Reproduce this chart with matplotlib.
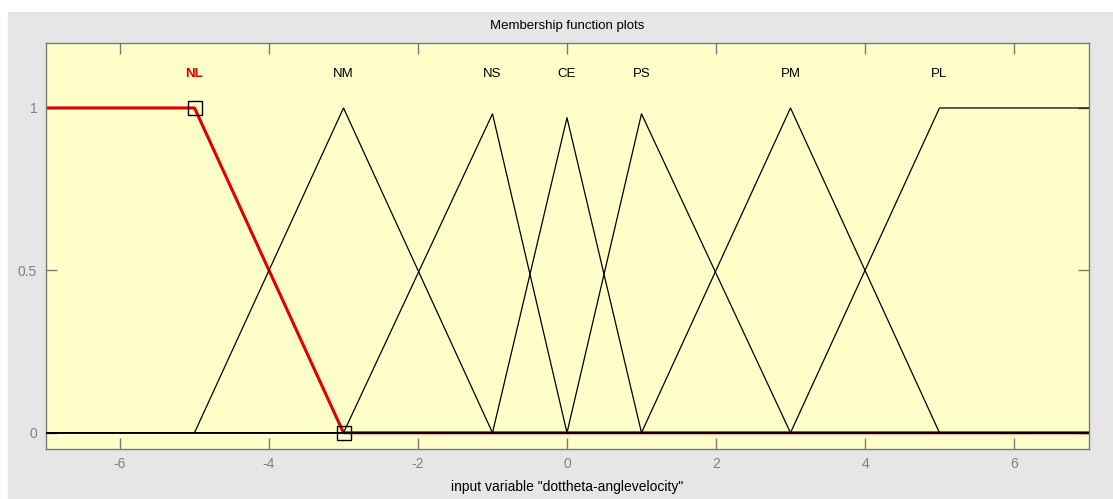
"""Membership function plots for dottheta-anglevelocity"""

import matplotlib
matplotlib.use("Agg")
import matplotlib.pyplot as plt
from matplotlib.patches import Rectangle

plt.rcParams["font.family"] = ["Liberation Sans", "DejaVu Sans"]
plt.rcParams["axes.unicode_minus"] = False

# membership functions: vertex x / y for each term
mf_names = ["NL", "NM", "NS", "CE", "PS", "PM", "PL"]
mf_x = [
    [-7, -5, -3, 7],
    [-7, -5, -3, -1, 7],
    [-7, -3, -1, 0, 7],
    [-7, -1, 0, 1, 7],
    [-7, 0, 1, 3, 7],
    [-7, 1, 3, 5, 7],
    [-7, 3, 5, 7],
]
mf_y = [
    [1, 1, 0, 0],
    [0, 0, 1, 0, 0],
    [0, 0, 0.982, 0, 0],
    [0, 0, 0.97, 0, 0],
    [0, 0, 0.982, 0, 0],
    [0, 0, 1, 0, 0],
    [0, 0, 1, 1],
]
label_pos = [-5, -3, -1, 0, 1, 3, 5]
selected = "NL"
selected_handles_x = [-5, -3]
selected_handles_y = [1, 0]

GREY = "#e6e6e6"
AXIS_COLOR = "#7a7a6e"

fig = plt.figure(figsize=(11.13, 4.99), dpi=100, facecolor="white")
fig.patches.append(Rectangle((8 / 1113, 0), 1, 1 - 12 / 499,
                             transform=fig.transFigure, color=GREY, zorder=-10))

ax = fig.add_axes([45.5 / 1113, 1 - 449 / 499, 1043 / 1113, 406 / 499])
ax.set_facecolor("#ffffca")

for name, xs, ys, pos in zip(mf_names, mf_x, mf_y, label_pos):
    if name == selected:
        ax.plot(xs, ys, color="#e00000", linewidth=2.2, zorder=2)
        ax.text(pos, 1.105, name, color="#e00000", fontsize=9.5, fontweight="bold",
                ha="center", va="center")
    else:
        ax.plot(xs, ys, color="black", linewidth=0.9, zorder=3)
        ax.text(pos, 1.105, name, color="black", fontsize=9.5,
                ha="center", va="center")

ax.plot(selected_handles_x, selected_handles_y, linestyle="none", marker="s",
        markersize=10, markerfacecolor="none", markeredgecolor="black",
        markeredgewidth=1, zorder=4, clip_on=False)

ax.set_xlim(-7, 7)
ax.set_ylim(-0.05, 1.2)
ax.set_xticks([-6, -4, -2, 0, 2, 4, 6])
ax.set_yticks([0, 0.5, 1])
ax.set_yticklabels(["0", "0.5", "1"])
ax.tick_params(direction="in", length=8, width=1, color=AXIS_COLOR,
               labelcolor="#808080", labelsize=10, top=True, right=True, pad=6)
for side in ax.spines.values():
    side.set_color(AXIS_COLOR)
    side.set_linewidth(1)

ax.set_title("Membership function plots", fontsize=9.5, pad=10)
ax.set_xlabel('input variable "dottheta-anglevelocity"', fontsize=10, labelpad=6)

fig.savefig("out.png", dpi=100, facecolor=fig.get_facecolor())
